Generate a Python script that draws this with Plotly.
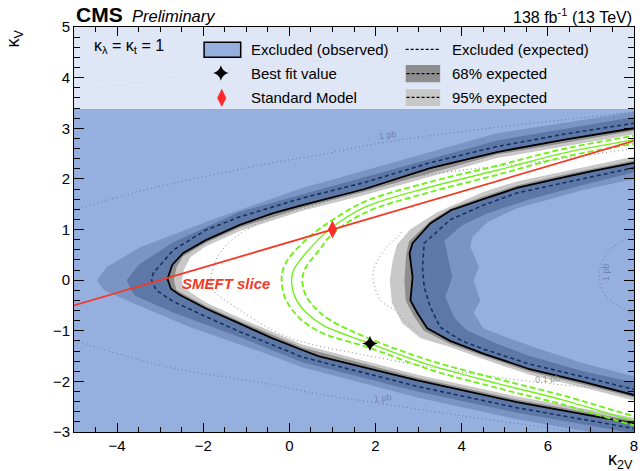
import plotly.graph_objects as go

# ---------------- data (kappa_2V, kappa_V) ----------------
# observed exclusion contour, left (outer) branch
OBS_L_X = [8.5, 8.0, 6.36, 4.82, 3.27, 1.75, 0.3, -0.39, -1.15, -1.94, -2.47, -2.72, -2.83, -2.75, -2.55, -1.94, -1.15, -0.39, 0.3, 0.67, 2.97, 5.28, 8.0, 8.5]
OBS_L_Y = [3.08, 3.0, 2.77, 2.53, 2.21, 1.8, 1.48, 1.32, 1.09, 0.79, 0.53, 0.3, 0.02, -0.17, -0.29, -0.56, -0.86, -1.15, -1.38, -1.5, -1.98, -2.41, -2.83, -2.9]
# observed exclusion contour, right (inner) branch
OBS_R_X = [8.5, 8.0, 7.0, 6.36, 5.28, 4.5, 3.75, 3.27, 2.86, 2.79, 2.86, 2.81, 2.97, 3.2, 3.73, 4.5, 5.58, 6.82, 8.0, 8.5]
OBS_R_Y = [2.4, 2.32, 2.15, 2.03, 1.82, 1.6, 1.38, 1.12, 0.73, 0.53, 0.06, -0.4, -0.65, -0.95, -1.2, -1.45, -1.76, -2.01, -2.27, -2.35]

# expected contours
EXP_L_X = [8.5, 8.0, 6.36, 4.82, 3.27, 1.75, 0.3, -0.39, -1.15, -1.94, -2.7, -3.16, -3.2, -3.09, -2.7, -1.94, -1.15, -0.39, 0.3, 2.97, 5.28, 8.0, 8.5]
EXP_L_Y = [3.18, 3.1, 2.88, 2.64, 2.32, 1.93, 1.62, 1.44, 1.25, 0.99, 0.59, 0.14, 0.0, -0.2, -0.42, -0.72, -1.02, -1.28, -1.52, -2.1, -2.52, -2.93, -3.0]
EXP_R_X = [8.5, 8.0, 6.36, 5.28, 4.5, 3.73, 3.13, 3.09, 3.13, 3.27, 3.5, 4.0, 4.5, 5.58, 6.82, 8.0, 8.5]
EXP_R_Y = [2.3, 2.22, 1.92, 1.72, 1.48, 1.19, 0.73, 0.26, -0.14, -0.53, -0.93, -1.2, -1.36, -1.66, -1.91, -2.16, -2.24]

# 68% expected band edges
O68_L_X = [8.5, 8.0, 4.82, 1.75, 0.3, -1.15, -2.7, -3.5, -3.78, -3.6, -2.7, -1.15, 0.3, 2.97, 5.28, 8.0, 8.5]
O68_L_Y = [3.3, 3.22, 2.76, 2.04, 1.70, 1.35, 0.75, 0.3, 0.0, -0.3, -0.64, -1.13, -1.62, -2.2, -2.62, -3.03, -3.1]
I68_L_X = [8.5, 8.0, 4.82, 1.75, 0.3, -1.15, -1.94, -2.47, -2.62, -2.68, -2.62, -2.4, -1.94, -1.15, 0.3, 2.97, 5.28, 8.0, 8.5]
I68_L_Y = [3.02, 2.95, 2.48, 1.75, 1.43, 1.04, 0.74, 0.47, 0.25, 0.0, -0.2, -0.31, -0.51, -0.81, -1.33, -1.93, -2.36, -2.78, -2.85]
O68_R_X = [8.5, 8.0, 6.82, 5.58, 4.6, 4.0, 3.6, 3.66, 3.78, 3.62, 3.82, 4.1, 4.8, 5.58, 6.82, 8.0, 8.5]
O68_R_Y = [2.2, 2.13, 1.88, 1.6, 1.32, 1.08, 0.78, 0.53, 0.06, -0.33, -0.73, -0.98, -1.25, -1.5, -1.8, -2.02, -2.1]
I68_R_X = [8.5, 8.0, 6.36, 5.28, 4.5, 3.75, 3.27, 2.78, 2.71, 2.67, 2.7, 2.88, 3.12, 3.73, 4.5, 5.58, 6.82, 8.0, 8.5]
I68_R_Y = [2.45, 2.37, 2.08, 1.87, 1.65, 1.42, 1.17, 0.77, 0.5, 0.0, -0.4, -0.7, -1.0, -1.26, -1.5, -1.81, -2.06, -2.32, -2.4]

# 95% expected band edges
O95_L_X = [8.5, 8.0, 4.82, 1.75, 0.3, -1.94, -3.46, -4.24, -4.47, -4.3, -3.64, -2.3, -0.55, 0.3, 2.97, 5.28, 8.0, 8.5]
O95_L_Y = [3.4, 3.32, 2.9, 2.17, 1.82, 1.15, 0.65, 0.26, 0.0, -0.2, -0.45, -0.93, -1.45, -1.72, -2.32, -2.75, -3.15, -3.25]
I95_L_X = [8.5, 8.0, 4.82, 1.75, 0.3, -1.15, -1.94, -2.3, -2.45, -2.5, -2.45, -2.25, -1.94, -1.15, 0.3, 2.97, 5.28, 8.0, 8.5]
I95_L_Y = [2.95, 2.88, 2.41, 1.68, 1.37, 0.97, 0.67, 0.45, 0.2, 0.0, -0.15, -0.27, -0.44, -0.75, -1.27, -1.87, -2.3, -2.72, -2.79]
O95_R_X = [8.5, 8.0, 6.82, 5.28, 4.6, 4.25, 4.2, 4.4, 4.28, 4.43, 4.28, 4.5, 4.89, 5.67, 6.82, 8.0, 8.5]
O95_R_Y = [2.08, 2.0, 1.78, 1.42, 1.15, 0.85, 0.66, 0.26, 0.0, -0.4, -0.65, -0.95, -1.08, -1.32, -1.64, -1.9, -1.98]
I95_R_X = [8.5, 8.0, 6.36, 5.28, 4.5, 3.43, 2.8, 2.5, 2.4, 2.33, 2.38, 2.62, 3.05, 3.73, 4.5, 5.58, 6.82, 8.0, 8.5]
I95_R_Y = [2.52, 2.44, 2.15, 1.95, 1.74, 1.34, 1.0, 0.7, 0.4, 0.0, -0.45, -0.85, -1.15, -1.32, -1.56, -1.87, -2.12, -2.38, -2.46]

# best-fit likelihood contours (green)
GR_X = [8.5, 7.97, 6.36, 4.82, 3.27, 1.75, 0.97, 0.67, 0.3, 0.1, 0.05, 0.14, 0.4, 0.8, 1.87, 3.27, 4.82, 6.36, 7.97, 8.5]
GR_Y = [2.85, 2.77, 2.51, 2.17, 1.84, 1.44, 1.03, 0.8, 0.45, 0.2, 0.0, -0.35, -0.65, -0.9, -1.25, -1.68, -2.04, -2.37, -2.77, -2.87]
GRO_X = [8.5, 7.97, 6.36, 4.82, 3.27, 1.75, 0.97, 0.5, 0.0, -0.15, -0.18, -0.1, 0.2, 0.7, 1.87, 3.27, 4.82, 6.36, 7.97, 8.5]
GRO_Y = [2.93, 2.85, 2.59, 2.26, 1.94, 1.55, 1.17, 0.88, 0.45, 0.2, 0.0, -0.35, -0.72, -1.02, -1.34, -1.77, -2.13, -2.46, -2.86, -2.96]
GRI_X = [8.5, 7.97, 6.36, 4.82, 3.27, 1.75, 0.97, 0.7, 0.38, 0.3, 0.38, 0.6, 0.95, 1.87, 3.27, 4.82, 6.36, 7.97, 8.5]
GRI_Y = [2.77, 2.69, 2.43, 2.08, 1.74, 1.33, 0.89, 0.6, 0.25, 0.0, -0.3, -0.55, -0.79, -1.16, -1.59, -1.95, -2.28, -2.68, -2.78]

# SMEFT slice line
SMEFT_X = [-5.0, 8.0]
SMEFT_Y = [-0.5, 2.75]

# points
BEST_FIT = (1.87, -1.25)
SM_POINT = (1.0, 1.0)

# cross-section iso-contours (dotted)
XS1_TOP_X = [-5, -3.5, -2.1, -0.5, 0.67, 2.12, 3.5, 4.82, 6.5, 8.0, 8.5]
XS1_TOP_Y = [1.38, 1.75, 2.02, 2.3, 2.47, 2.71, 2.88, 3.02, 3.18, 3.32, 3.37]
XS1_BOT_X = [-5, -2.86, -0.55, 0.67, 2.0, 4.0, 6.0, 7.0]
XS1_BOT_Y = [-1.19, -1.71, -2.04, -2.25, -2.42, -2.68, -2.92, -3.05]
XS1_R_X = [8.3, 7.88, 7.45, 7.28, 7.19, 7.35, 7.81, 8.3]
XS1_R_Y = [1.05, 0.85, 0.6, 0.4, 0.06, -0.33, -0.59, -0.8]
XS01_X = [8.2, 8.0, 6.0, 4.0, 2.81, 1.5, 0.67, -0.55, -1.34, -1.7, -1.82, -1.77, -1.15, -0.39, 0.3, 1.75, 3.27, 4.5, 5.58, 6.73, 7.3]
XS01_Y = [2.62, 2.6, 2.36, 2.17, 2.02, 1.76, 1.5, 1.19, 0.79, 0.4, 0.0, -0.2, -0.59, -0.99, -1.22, -1.48, -1.72, -1.88, -2.0, -2.1, -2.12]
XS01_R_X = [2.6, 2.51, 2.2, 1.98, 1.94, 2.12, 2.44, 2.74, 3.0]
XS01_R_Y = [0.95, 0.85, 0.59, 0.26, 0.06, -0.4, -0.59, -0.85, -1.05]
XS10_X = [-5, -2.5, 0, 2.5, 5, 8]
XS10_Y = [3.72, 4.02, 4.28, 4.48, 4.65, 4.8]

X_TICKS = [-4, -2, 0, 2, 4, 6, 8]
Y_TICKS = [-3, -2, -1, 0, 1, 2, 3, 4, 5]

# ---------------- styling ----------------
FONT = "Liberation Sans, Arial, sans-serif"
BLUE_ALPHA = "rgba(43,95,191,0.5)"
BLUE_SOLID = "rgb(149,175,223)"
GREY95 = "#C8C8C8"
GREY68 = "#8E8E8E"
GREEN = "#72F01C"
RED = "#F43A26"
DOT = "#8A8A8A"

fig = go.Figure()


def poly(x, y, color):
    fig.add_trace(go.Scatter(x=x, y=y, mode="lines", fill="toself", fillcolor=color,
                             line=dict(width=0), hoverinfo="skip", showlegend=False))


def line(x, y, color, width, dash="solid", shape="linear"):
    fig.add_trace(go.Scatter(x=x, y=y, mode="lines", line=dict(color=color, width=width, dash=dash, shape=shape),
                             hoverinfo="skip", showlegend=False))


# bands
poly(O95_L_X + I95_L_X[::-1], O95_L_Y + I95_L_Y[::-1], GREY95)
poly(O95_R_X + I95_R_X[::-1], O95_R_Y + I95_R_Y[::-1], GREY95)
poly(O68_L_X + I68_L_X[::-1], O68_L_Y + I68_L_Y[::-1], GREY68)
poly(O68_R_X + I68_R_X[::-1], O68_R_Y + I68_R_Y[::-1], GREY68)

# cross-section contours
for xs, ys in [(XS10_X, XS10_Y), (XS1_TOP_X, XS1_TOP_Y), (XS1_BOT_X, XS1_BOT_Y), (XS1_R_X, XS1_R_Y),
               (XS01_X, XS01_Y), (XS01_R_X, XS01_R_Y)]:
    line(xs, ys, DOT, 1, dash="1px,3px", shape="spline")

# expected
line(EXP_L_X, EXP_L_Y, "black", 1.6, dash="4px,3px")
line(EXP_R_X, EXP_R_Y, "black", 1.6, dash="4px,3px")

# observed excluded region (semi-transparent blue)
poly(OBS_L_X + [8.5, -5.6, -5.6, 8.5], OBS_L_Y + [-3.6, -3.6, 5.6, 5.6], BLUE_ALPHA)
poly(OBS_R_X, OBS_R_Y, BLUE_ALPHA)

# observed contour lines
line(OBS_L_X, OBS_L_Y, "black", 1.8)
line(OBS_R_X, OBS_R_Y, "black", 1.8)

# green contours
line(GRO_X, GRO_Y, GREEN, 1.9, dash="6px,3px", shape="spline")
line(GRI_X, GRI_Y, GREEN, 1.9, dash="6px,3px", shape="spline")
line(GR_X, GR_Y, GREEN, 1.4, shape="spline")

# SMEFT slice
line(SMEFT_X, SMEFT_Y, RED, 1.8)

# markers
fig.add_trace(go.Scatter(x=[BEST_FIT[0]], y=[BEST_FIT[1]], mode="markers",
                         marker=dict(symbol="star-diamond", size=11, color="black"), showlegend=False))
fig.add_trace(go.Scatter(x=[SM_POINT[0]], y=[SM_POINT[1]], mode="markers",
                         marker=dict(symbol="diamond-tall", size=13, color="#FF2A2A", line=dict(width=0)), showlegend=False))

# legend box overlay (semi-transparent white)
poly([-6, 9, 9, -6], [3.38, 3.38, 6, 6], "rgba(255,255,255,0.7)")

# legend markers
fig.add_trace(go.Scatter(x=[-1.59], y=[4.09], mode="markers",
                         marker=dict(symbol="star-diamond", size=11, color="black"), showlegend=False))
fig.add_trace(go.Scatter(x=[-1.57], y=[3.6], mode="markers",
                         marker=dict(symbol="diamond-tall", size=13, color="#FF2A2A"), showlegend=False))

shapes = [
    dict(type="rect", xref="x", yref="y", x0=-1.98, x1=-1.13, y0=4.40, y1=4.70,
         fillcolor=BLUE_SOLID, line=dict(color="black", width=1.5), layer="above"),
    dict(type="line", xref="x", yref="y", x0=2.70, x1=3.50, y0=4.56, y1=4.56,
         line=dict(color="black", width=1.3, dash="3px,2px"), layer="above"),
    dict(type="rect", xref="x", yref="y", x0=2.70, x1=3.50, y0=3.91, y1=4.25,
         fillcolor=GREY68, line=dict(width=0), layer="above"),
    dict(type="line", xref="x", yref="y", x0=2.72, x1=3.48, y0=4.08, y1=4.08,
         line=dict(color="black", width=1.3, dash="3px,2px"), layer="above"),
    dict(type="rect", xref="x", yref="y", x0=2.70, x1=3.50, y0=3.44, y1=3.77,
         fillcolor=GREY95, line=dict(width=0), layer="above"),
    dict(type="line", xref="x", yref="y", x0=2.72, x1=3.48, y0=3.61, y1=3.61,
         line=dict(color="black", width=1.3, dash="3px,2px"), layer="above"),
]

ann = []


def txt(x, y, s, size=15, xanchor="left", color="black", xref="x", yref="y", angle=0, family=FONT):
    ann.append(dict(x=x, y=y, xref=xref, yref=yref, text=s, showarrow=False, xanchor=xanchor,
                    yanchor="middle", textangle=angle, font=dict(family=family, size=size, color=color)))


txt(-4.58, 4.62, "κ<sub>λ</sub> = κ<sub>t</sub> = 1", size=16)
txt(-0.94, 4.55, "Excluded (observed)")
txt(-0.94, 4.09, "Best fit value")
txt(-0.94, 3.60, "Standard Model")
txt(3.73, 4.56, "Excluded (expected)")
txt(3.73, 4.09, "68% expected")
txt(3.73, 3.61, "95% expected")

txt(-2.55, -0.06, "<b><i>SMEFT slice</i></b>", size=15, color=RED)

# cross-section labels
txt(2.3, 2.86, "1 pb", size=9, xanchor="center", color="#6F84AE", angle=-9)
txt(2.17, -2.33, "1 pb", size=9, xanchor="center", color="#6F84AE", angle=-6)
txt(5.99, -1.95, "0.1 pb", size=9, xanchor="center", color="#9A9A9A", angle=-3)
txt(7.35, 0.16, "1 pb", size=9, xanchor="center", color="#6F84AE", angle=-90)

# titles (paper coordinates)
PX_L, PX_W, PX_B, PX_H = 74, 564, 432, 405


def px(xp, yp):
    return (xp - PX_L) / PX_W, (PX_B - yp) / PX_H


x0, y0 = px(74, 15)
txt(x0, y0, "<b>CMS</b>", size=21, xref="paper", yref="paper")
x0, y0 = px(130, 16)
txt(x0, y0, "<i>Preliminary</i>", size=16.5, xref="paper", yref="paper")
x0, y0 = px(638, 16)
txt(x0, y0, "138 fb<sup>-1</sup> (13 TeV)", size=16, xanchor="right", xref="paper", yref="paper")
x0, y0 = px(15, 38)
txt(x0, y0, "κ<sub>V</sub>", size=18, xanchor="center", xref="paper", yref="paper", angle=-90)
x0, y0 = px(624, 460)
txt(x0, y0, "κ<sub>2V</sub>", size=18, xanchor="center", xref="paper", yref="paper")

axis_common = dict(showgrid=False, zeroline=False, showline=True, linecolor="black", linewidth=1,
                   mirror="ticks", ticks="inside", tickcolor="black",
                   tickfont=dict(family=FONT, size=15, color="black"))

fig.update_layout(
    width=644, height=471,
    margin=dict(l=74, r=6, t=27, b=39),
    paper_bgcolor="white", plot_bgcolor="white",
    showlegend=False,
    shapes=shapes, annotations=ann,
    xaxis=dict(range=[-5, 8], tickvals=X_TICKS, ticklen=9, tickwidth=1,
               minor=dict(ticks="inside", dtick=0.5, ticklen=5, tickcolor="black"), **axis_common),
    yaxis=dict(range=[-3, 5], tickvals=Y_TICKS, ticklen=10, tickwidth=1,
               minor=dict(ticks="inside", dtick=0.2, ticklen=6, tickcolor="black"), **axis_common),
)

fig.write_html("out.html")
